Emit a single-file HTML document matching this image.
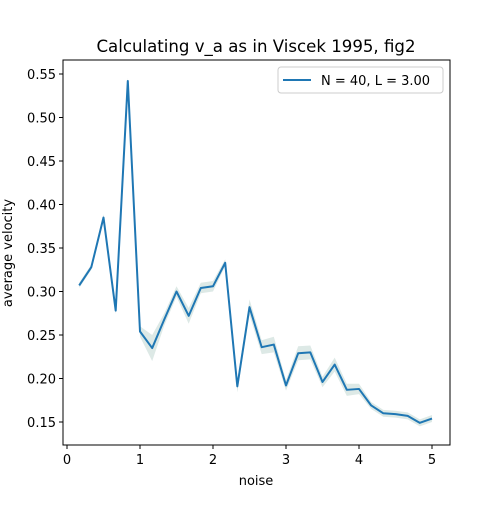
<!DOCTYPE html>
<html><head><meta charset="utf-8"><style>
body{margin:0;background:#fff;}
text{font-family:"DejaVu Sans","Liberation Sans",sans-serif;fill:#000;}
</style></head><body>
<svg width="500" height="500" xmlns="http://www.w3.org/2000/svg">
<rect width="500" height="500" fill="#fff"/>
<text x="256" y="52" font-size="16.6" text-anchor="middle">Calculating v_a as in Viscek 1995, fig2</text>
<g id="band"></g>
<g id="line"></g>
<g id="axes"></g>
<rect x="63" y="60" width="387" height="385" fill="none" stroke="#000" stroke-width="1"/>
<text x="256" y="485" font-size="13" text-anchor="middle">noise</text>
<text transform="translate(12,253) rotate(-90)" font-size="13" text-anchor="middle">average velocity</text>
<g>
<rect x="278" y="67" width="165" height="26" rx="3" fill="#fff" stroke="#ccc"/>
<line x1="283" y1="80" x2="311" y2="80" stroke="#1f77b4" stroke-width="2"/>
<text x="321" y="85" font-size="13">N = 40, L = 3.00</text>
</g>
</svg>
<script>
const noise=[0.167,0.333,0.5,0.667,0.833,1.0,1.167,1.333,1.5,1.667,1.833,2.0,2.167,2.333,2.5,2.667,2.833,3.0,3.167,3.333,3.5,3.667,3.833,4.0,4.167,4.333,4.5,4.667,4.833,5.0];
const velocity=[0.307,0.328,0.385,0.278,0.542,0.254,0.235,0.268,0.300,0.272,0.304,0.306,0.333,0.191,0.282,0.236,0.239,0.192,0.229,0.230,0.196,0.216,0.187,0.188,0.169,0.160,0.159,0.157,0.149,0.154];
const spread=[0.003,0.003,0.004,0.004,0.004,0.006,0.015,0.007,0.006,0.009,0.006,0.006,0.004,0.007,0.009,0.008,0.009,0.006,0.008,0.008,0.006,0.008,0.007,0.006,0.004,0.004,0.004,0.004,0.004,0.004];
const xTicks=[0,1,2,3,4,5];
const yTicks=[0.15,0.20,0.25,0.30,0.35,0.40,0.45,0.50,0.55];
const sx=v=>67+v*73, sy=v=>422-(v-0.15)*870;
const NS="http://www.w3.org/2000/svg";
function mk(t,a,p){const e=document.createElementNS(NS,t);for(const k in a)e.setAttribute(k,a[k]);p.appendChild(e);return e;}
const band=document.getElementById('band'),line=document.getElementById('line'),axes=document.getElementById('axes');
let up=noise.map((x,i)=>sx(x)+','+sy(velocity[i]+spread[i]));
let dn=noise.map((x,i)=>sx(x)+','+sy(velocity[i]-spread[i])).reverse();
const bp=mk('polygon',{points:up.concat(dn).join(' '),fill:'#dde9e6',stroke:'none'},band);


const pl=mk('polyline',{points:noise.map((x,i)=>sx(x)+','+sy(velocity[i])).join(' '),fill:'none',stroke:'#1f77b4','stroke-width':'2','stroke-linejoin':'round'},line);


xTicks.forEach(t=>{const x=sx(t);
 const l=mk('line',{x1:x,x2:x,y1:445,y2:449,stroke:'#000'},axes);
 
 
 const tx=mk('text',{x:x,y:464,'font-size':'13','text-anchor':'middle'},axes);tx.textContent=t;
 
 
});
yTicks.forEach(t=>{const y=sy(t);
 const l=mk('line',{x1:59,x2:63,y1:y,y2:y,stroke:'#000'},axes);
 
 
 const tx=mk('text',{x:56,y:y+5,'font-size':'13','text-anchor':'end'},axes);tx.textContent=t.toFixed(2);
 
 
});
</script>
</body></html>
